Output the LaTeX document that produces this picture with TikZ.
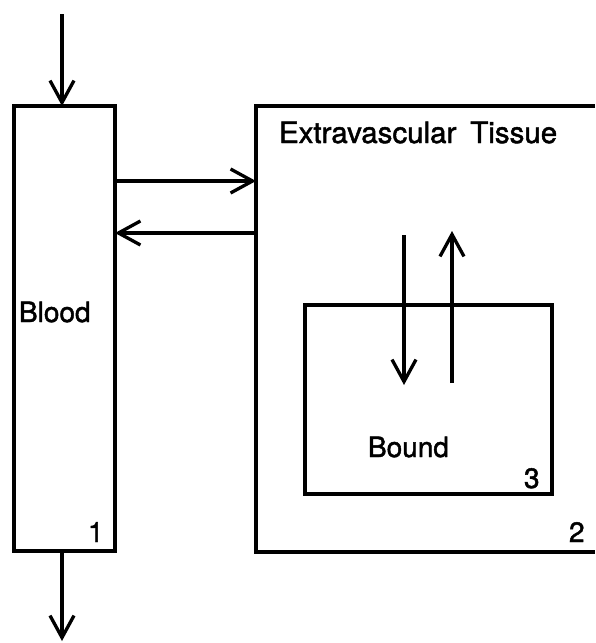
\documentclass[tikz,border=0pt]{standalone}
\usepackage{fontspec}
\setmainfont{TeX Gyre Heros}
\newfontfamily\lettering{TeX Gyre Heros}[FakeBold=1.6]
\usetikzlibrary{arrows.meta}
\tikzset{
  lw/.style={line width=3.3pt},
  arr/.style={lw, -{Straight Barb[length=22pt,width=24pt,line width=3.3pt]}},
  boxnode/.style={draw, lw, inner sep=0pt, outer sep=0pt, rectangle},
  lbl/.style={inner sep=0pt, outer sep=0pt, anchor=base west, font=\lettering\fontsize{28}{30}\selectfont},
}
\begin{document}
\begin{tikzpicture}[x=1pt,y=-1pt]
\useasboundingbox (0,0) rectangle (595,643);
% Blood compartment
\node[boxnode, minimum width=101pt, minimum height=445pt] (blood) at (64.5,328.5) {};
% Extravascular tissue (open on the right)
\node[inner sep=0pt, outer sep=0pt, minimum width=339pt, minimum height=446pt] (tissue) at (425.5,329) {};
\draw[lw, line join=miter] (tissue.north east) -- (tissue.north west) -- (tissue.south west) -- (tissue.south east);
% Bound compartment
\node[boxnode, minimum width=247pt, minimum height=189pt] (bound) at (428.5,399.5) {};
% labels
\node[lbl] (tBlood) at (19,322) {Blood};
\node[lbl] (tOne) at (88,542) {1};
\node[lbl, font=\lettering\fontsize{29.5}{32}\selectfont] (tTissue) at (279,143) {Extravascular\hspace{14pt}Tissue};
\node[lbl] (tTwo) at (569,542) {2};
\node[lbl] (tBound) at (368,457) {Bound};
\node[lbl] (tThree) at (524,488) {3};
% coordinates
\coordinate (in) at (62,14);
\coordinate (out) at (62,641);
\coordinate (r1) at (0,181);
\coordinate (r2) at (0,233);
\coordinate (dTop) at (404,235);
\coordinate (dBot) at (404,385);
\coordinate (uBot) at (452,383);
\coordinate (uTop) at (452,231);
% arrows
\draw[arr] (in) -- (in |- blood.north);
\draw[arr] (out |- blood.south) -- (out);
\draw[arr] (blood.east |- r1) -- (tissue.west |- r1);
\draw[arr] (tissue.west |- r2) -- (blood.east |- r2);
\draw[arr] (dTop) -- (dBot);
\draw[arr] (uBot) -- (uTop);
\end{tikzpicture}
\end{document}
